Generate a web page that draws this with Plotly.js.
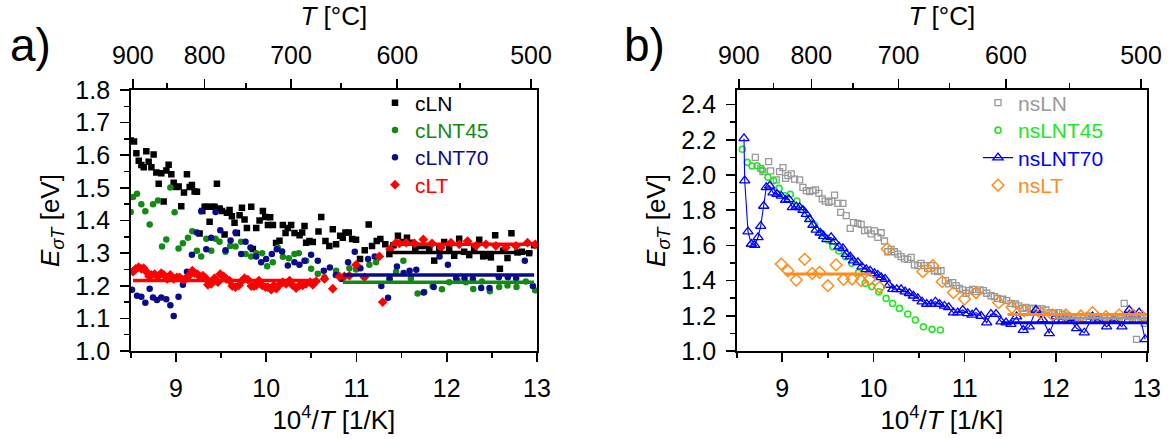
<!DOCTYPE html>
<html>
<head>
<meta charset="utf-8">
<script src="https://cdn.plot.ly/plotly-3.0.1.min.js"></script>
<style>html,body{margin:0;padding:0;background:#fff}#chart{width:1174px;height:441px}</style>
</head>
<body>
<div id="chart"></div>
<script>
// ---------- Panel a data ----------
const cLN_x = [8.50,8.537,8.563,8.589,8.618,8.644,8.673,8.699,8.729,8.754,8.784,8.81,8.839,8.865,8.895,8.92,8.95,8.976,9.005,9.031,9.06,9.09,9.123,9.153,9.178,9.208,9.234,9.263,9.293,9.319,9.344,9.374,9.40,9.429,9.455,9.485,9.51,9.54,9.566,9.595,9.621,9.65,9.676,9.706,9.732,9.761,9.787,9.835,9.853,9.89,9.927,9.964,9.99,10.02,10.045,10.075,10.11,10.148,10.185,10.215,10.24,10.277,10.314,10.37,
  10.399,10.425,10.443,10.48,10.517,10.58,10.61,10.657,10.70,10.738,10.775,10.82,10.849,10.878,10.915,10.952,10.996,11.04,11.092,11.136,11.173,11.225,11.265,11.32,11.365,11.41,11.46,11.52,11.56,11.615,11.652,11.704,11.77,11.807,11.862,11.917,11.972,12.027,12.083,12.138,12.193,12.249,12.304,12.36,12.404,12.452,12.489,12.537,12.589,12.625,12.673,12.717,12.784,12.832,12.913,12.968];
const cLN_y = [1.645,1.642,1.606,1.583,1.570,1.563,1.612,1.580,1.563,1.602,1.547,1.513,1.545,1.458,1.553,1.571,1.542,1.516,1.503,1.504,1.444,1.486,1.542,1.503,1.509,1.489,1.488,1.36,1.429,1.442,1.442,1.396,1.442,1.442,1.513,1.437,1.429,1.357,1.424,1.432,1.413,1.393,1.362,1.416,1.439,1.403,1.377,1.442,1.313,1.377,1.40,1.429,1.411,1.386,1.41,1.386,1.331,1.338,1.386,1.362,1.377,1.386,1.362,1.355,
  1.363,1.383,1.332,1.337,1.334,1.366,1.411,1.337,1.322,1.373,1.327,1.353,1.347,1.363,1.363,1.343,1.341,1.282,1.309,1.388,1.322,1.337,1.343,1.327,1.297,1.324,1.353,1.334,1.347,1.332,1.312,1.322,1.322,1.312,1.277,1.312,1.334,1.312,1.292,1.344,1.304,1.294,1.312,1.341,1.29,1.292,1.287,1.355,1.252,1.307,1.285,1.361,1.302,1.304,1.300,1.324];

const cLNT45_x = [8.5,8.526,8.57,8.618,8.662,8.71,8.747,8.802,8.847,8.894,8.939,8.986,9.03,9.078,9.134,9.182,9.233,9.281,9.337,9.392,9.44,9.484,9.55,9.602,9.661,9.724,9.772,9.834,9.89,9.956,10.011,10.074,10.129,10.185,10.251,10.314,10.362,10.443,10.498,10.572,
  10.646,10.775,10.922,10.996,11.143,11.217,11.365,11.439,11.52,11.604,11.678,11.752,11.844,11.947,12.028,12.12,12.213,12.294,12.39,12.478,12.581,12.673,12.773,12.876,12.979];
const cLNT45_y = [1.426,1.472,1.482,1.45,1.428,1.388,1.45,1.461,1.32,1.342,1.501,1.425,1.314,1.33,1.347,1.367,1.307,1.29,1.344,1.307,1.344,1.335,1.304,1.322,1.32,1.335,1.297,1.29,1.3,1.3,1.26,1.272,1.317,1.289,1.284,1.297,1.3,1.277,1.252,1.237,
  1.226,1.246,1.254,1.25,1.264,1.272,1.222,1.243,1.277,1.222,1.176,1.181,1.199,1.189,1.211,1.216,1.211,1.19,1.213,1.183,1.196,1.201,1.196,1.213,1.186];

const cLNT70_x = [8.515,8.57,8.618,8.662,8.71,8.747,8.791,8.839,8.894,8.939,8.976,9.03,9.078,9.123,9.178,9.233,9.281,9.337,9.392,9.44,9.492,9.55,9.606,9.661,9.724,9.772,9.827,9.89,9.945,10.0,10.063,10.118,10.177,10.24,10.314,10.369,10.425,10.498,10.572,
  10.639,10.706,10.772,10.834,10.908,10.982,11.044,11.129,11.203,11.276,11.35,11.368,11.449,11.523,11.589,11.663,11.744,11.855,11.921,12.013,12.105,12.197,12.289,12.382,12.474,12.577,12.677,12.769,12.865,12.954];
const cLNT70_y = [1.188,1.169,1.166,1.148,1.191,1.164,1.156,1.164,1.159,1.14,1.107,1.166,1.203,1.243,1.295,1.363,1.428,1.312,1.347,1.426,1.37,1.309,1.339,1.363,1.297,1.335,1.317,1.29,1.272,1.282,1.297,1.312,1.305,1.262,1.272,1.264,1.277,1.295,1.277,
  1.246,1.256,1.233,1.221,1.272,1.304,1.254,1.282,1.29,1.199,1.163,1.221,1.259,1.239,1.246,1.249,1.179,1.196,1.29,1.264,1.223,1.223,1.221,1.193,1.193,1.226,1.226,1.223,1.277,1.199];

const cLT_x = [8.526,8.555,8.588,8.618,8.644,8.673,8.703,8.729,8.765,8.802,8.839,8.868,8.905,8.939,8.976,9.012,9.042,9.078,9.115,9.145,9.182,9.208,9.237,9.263,9.3,9.33,9.355,9.392,9.429,9.466,9.492,9.529,9.558,9.595,9.625,9.661,9.698,9.735,9.761,9.798,9.835,9.865,9.89,9.92,9.956,9.993,10.019,10.056,10.085,10.111,10.148,10.185,10.222,10.259,10.296,10.332,10.369,10.406,10.443,10.487,10.517,10.554,
  10.646,10.738,10.812,10.867,10.922,10.996,11.088,11.254,11.291,11.372,11.439,11.476,11.55,11.642,11.741,11.837,11.936,12.047,12.139,12.231,12.324,12.434,12.545,12.655,12.766,12.895,12.98];
const cLT_y = [1.243,1.252,1.257,1.252,1.254,1.243,1.229,1.233,1.236,1.229,1.239,1.233,1.221,1.233,1.221,1.226,1.226,1.219,1.223,1.231,1.246,1.239,1.236,1.229,1.231,1.223,1.203,1.206,1.223,1.211,1.236,1.229,1.221,1.216,1.199,1.196,1.201,1.216,1.223,1.219,1.199,1.199,1.201,1.216,1.201,1.196,1.196,1.188,1.201,1.191,1.203,1.211,1.206,1.216,1.201,1.193,1.201,1.201,1.206,1.211,1.203,1.214,
  1.221,1.191,1.228,1.229,1.231,1.264,1.226,1.29,1.15,1.312,1.332,1.33,1.332,1.33,1.342,1.33,1.317,1.332,1.327,1.337,1.322,1.327,1.322,1.317,1.322,1.332,1.327];

// constant-level fits, panel a
const fitA_series = ['cLT','cLT','cLN','cLNT70','cLNT45'];
const fitA_x0 = [8.526,11.383,11.335,10.85,10.85];
const fitA_x1 = [10.59,12.93,12.95,12.968,12.968];
const fitA_level = [1.216,1.327,1.302,1.233,1.211];

// ---------- Panel b data ----------
const nsLN_x = [8.704,8.763,8.788,8.85,8.872,8.934,8.97,9.007,9.036,9.062,9.098,9.135,9.19,9.226,9.263,9.3,9.336,9.365,9.402,9.438,9.471,9.511,9.544,9.573,9.61,9.64,9.665,9.701,9.745,9.781,9.829,9.865,9.902,9.938,9.975,10.011,10.048,10.084,10.121,10.157,10.194,10.23,10.267,10.303,10.34,10.376,10.413,10.449,10.486,10.522,10.559,10.595,10.632,10.668,10.705,10.741,10.789,10.825,10.869,10.906,10.942,10.979,11.015,11.052,11.088,11.125,11.169,11.205,11.242,11.289,11.326,11.362,
  11.417,11.461,11.508,11.556,11.592,11.636,11.673,11.717,11.753,11.801,11.848,11.892,11.936,11.983,12.031,12.075,12.129,12.184,12.239,12.301,12.359,12.421,12.476,12.531,12.585,12.651,12.695,12.75,12.804,12.841,12.885,12.932,12.969];
const nsLN_y = [2.100,2.038,2.019,2.076,2.023,1.972,2.019,2.042,1.981,1.996,2.006,1.977,1.972,1.93,1.911,1.905,1.911,1.915,1.896,1.864,1.852,1.845,1.852,1.886,1.839,1.788,1.839,1.769,1.697,1.729,1.725,1.72,1.684,1.688,1.665,1.682,1.646,1.672,1.625,1.564,1.578,1.564,1.551,1.536,1.523,1.521,1.532,1.489,1.485,1.498,1.485,1.47,1.485,1.456,1.451,1.456,1.4,1.381,1.388,1.371,1.356,1.347,1.328,1.343,1.35,1.337,1.347,1.343,1.328,1.314,1.309,1.299,
  1.294,1.286,1.271,1.267,1.256,1.243,1.248,1.239,1.243,1.239,1.239,1.233,1.218,1.214,1.218,1.21,1.199,1.195,1.191,1.186,1.199,1.191,1.191,1.191,1.19,1.186,1.186,1.271,1.195,1.186,1.066,1.186,1.157];

const nsLNT45_x = [8.562,8.617,8.668,8.723,8.781,8.843,8.905,8.964,9.026,9.088,9.161,9.226,9.288,9.354,9.427,9.5,9.555,9.621,9.694,9.763,9.836,9.909,9.982,10.059,10.139,10.21,10.285,10.376,10.46,10.548,10.643,10.734];
const nsLNT45_y = [2.146,2.072,2.051,2.053,2.028,1.987,1.968,1.924,1.882,1.89,1.852,1.801,1.754,1.716,1.669,1.631,1.593,1.568,1.536,1.498,1.445,1.385,1.366,1.337,1.299,1.27,1.242,1.21,1.176,1.138,1.123,1.119];

const nsLNT70_x = [8.58,8.588,8.624,8.661,8.697,8.734,8.763,8.796,8.825,8.862,8.898,8.942,8.989,9.036,9.073,9.11,9.153,9.19,9.226,9.263,9.3,9.336,9.372,9.416,9.453,9.489,9.536,9.573,9.621,9.665,9.701,9.745,9.781,9.829,9.873,9.92,9.964,10.011,10.048,10.084,10.128,10.168,10.212,10.256,10.303,10.347,10.394,10.438,10.486,
  10.533,10.584,10.632,10.679,10.723,10.778,10.825,10.877,10.924,10.979,11.034,11.081,11.125,11.18,11.242,11.289,11.344,11.399,11.454,11.508,11.57,11.643,11.709,11.782,11.855,11.928,12.001,12.074,12.147,12.228,12.312,12.403,12.476,12.557,12.641,12.725,12.805,12.86,12.914,12.98];
const nsLNT70_y = [2.208,1.968,1.678,1.608,1.602,1.646,1.71,1.824,1.93,1.938,1.9,1.892,1.881,1.858,1.862,1.816,1.82,1.816,1.801,1.778,1.748,1.716,1.688,1.672,1.653,1.634,1.646,1.621,1.593,1.583,1.551,1.536,1.513,1.504,1.479,1.464,1.455,1.441,1.432,1.418,1.409,1.375,1.352,1.35,1.35,1.337,1.328,1.314,1.299,
  1.28,1.267,1.267,1.28,1.267,1.256,1.248,1.218,1.218,1.233,1.214,1.205,1.218,1.199,1.161,1.21,1.21,1.167,1.161,1.153,1.195,1.119,1.138,1.233,1.18,1.1,1.195,1.176,1.186,1.129,1.104,1.195,1.176,1.138,1.176,1.138,1.233,1.205,1.218,1.066];

const nsLT_x = [8.989,9.062,9.153,9.245,9.329,9.409,9.5,9.591,9.672,9.767,9.865,9.957,10.066,10.15,10.541,10.651,10.753,10.877,10.998,11.125,11.373,11.519,11.654,11.837,11.965,12.111,12.275,12.403,12.549,12.695,12.841,12.951];
const nsLT_y = [1.494,1.456,1.403,1.521,1.441,1.447,1.371,1.489,1.407,1.409,1.4,1.407,1.362,1.58,1.451,1.485,1.394,1.332,1.295,1.331,1.275,1.248,1.229,1.214,1.205,1.205,1.199,1.218,1.195,1.205,1.205,1.195];

// constant-level fits, panel b
const fitB_series = ['nsLN','nsLNT70','nsLT','nsLT'];
const fitB_x0 = [12.0,11.40,9.026,11.47];
const fitB_x1 = [13.0,13.0,9.975,13.0];
const fitB_level = [1.187,1.161,1.4375,1.208];

// ---------- axis tick labels ----------
const bottomTicks = [9,10,11,12,13];
const topTempC = [900,800,700,600,500];
const topMinorTempC = [850,750,650,550];
const yTicksA = [1.0,1.1,1.2,1.3,1.4,1.5,1.6,1.7,1.8];
const yTicksB = [1.0,1.2,1.4,1.6,1.8,2.0,2.2,2.4];

// ---------- styling ----------
const col = {cLN:'#000000', cLNT45:'#138a13', cLNT70:'#0a0a8c', cLT:'#ff0000',
             nsLN:'#999999', nsLNT45:'#22e622', nsLNT70:'#0000ff', nsLT:'#ff8c1a'};
const FONT = 'Liberation Sans, Arial, sans-serif';
const W = 1174, H = 441;
const toInvT = c => 1e4 / (c + 273.15);

const traces = [];
const legends = {};
let legendCount = 0;
// one legend per series so that each entry's text takes the series colour
function addLegend(name, leftPx, rowCenterPx){
  legendCount++;
  const id = legendCount === 1 ? 'legend' : 'legend' + legendCount;
  legends[id] = {x:leftPx / W, y:1 - rowCenterPx / H, xanchor:'left', yanchor:'middle',
    bgcolor:'rgba(0,0,0,0)', borderwidth:0, itemwidth:30,
    font:{family:FONT, size:21, color:col[name]}};
  return id;
}
function pts(name, x, y, sym, size, lw, xa, ya, legendPos, extra){
  const t = {type:'scatter', mode:'markers', name:name, x:x, y:y, xaxis:xa, yaxis:ya,
    legend:addLegend(name, legendPos[0], legendPos[1]),
    marker:{symbol:sym, size:size, color:col[name], line:{width:lw, color:col[name]}}, hoverinfo:'x+y'};
  Object.assign(t, extra||{});
  traces.push(t);
}
pts('cLN', cLN_x, cLN_y, 'square', 6.5, 0, 'x', 'y', [375, 103]);
pts('cLNT45', cLNT45_x, cLNT45_y, 'circle', 6.5, 0, 'x', 'y', [375, 130.3]);
pts('cLNT70', cLNT70_x, cLNT70_y, 'circle', 6.5, 0, 'x', 'y', [375, 157.6]);
pts('cLT', cLT_x, cLT_y, 'diamond', 7.5, 0, 'x', 'y', [375, 185]);

pts('nsLN', nsLN_x, nsLN_y, 'square-open', 6, 1.3, 'x3', 'y2', [978, 103]);
pts('nsLNT45', nsLNT45_x, nsLNT45_y, 'circle-open', 6, 1.6, 'x3', 'y2', [978, 130.5]);
pts('nsLNT70', nsLNT70_x, nsLNT70_y, 'triangle-up-open', 9, 1.3, 'x3', 'y2', [978, 158],
    {mode:'lines+markers', line:{color:col.nsLNT70, width:1.1}});
pts('nsLT', nsLT_x, nsLT_y, 'diamond-open', 9, 1.5, 'x3', 'y2', [978, 185.5]);

for (let i = 0; i < fitA_series.length; i++) {
  traces.push({type:'scatter', mode:'lines', x:[fitA_x0[i], fitA_x1[i]], y:[fitA_level[i], fitA_level[i]],
    xaxis:'x', yaxis:'y', showlegend:false, line:{color:col[fitA_series[i]], width:3.5}, hoverinfo:'skip'});
}
for (let i = 0; i < fitB_series.length; i++) {
  traces.push({type:'scatter', mode:'lines', x:[fitB_x0[i], fitB_x1[i]], y:[fitB_level[i], fitB_level[i]],
    xaxis:'x3', yaxis:'y2', showlegend:false, line:{color:col[fitB_series[i]], width:3}, hoverinfo:'skip'});
}
// carriers for the top temperature axes
traces.push({type:'scatter', mode:'markers', x:[], y:[], xaxis:'x2', yaxis:'y', showlegend:false, hoverinfo:'skip'});
traces.push({type:'scatter', mode:'markers', x:[], y:[], xaxis:'x4', yaxis:'y2', showlegend:false, hoverinfo:'skip'});

const PA = [130.7/W, 537/W], PB = [736.7/W, 1147/W], PY = [1 - 351/H, 1 - 90/H];

const tickFont = {family:FONT, size:25, color:'#000'};
const titleFont = {family:FONT, size:26, color:'#000'};
const common = {showgrid:false, zeroline:false, showline:true, linecolor:'#000', linewidth:1.6,
  ticks:'outside', ticklen:9, tickwidth:1.6, tickcolor:'#000', tickfont:tickFont, automargin:false};

function bottomAxis(domain, anchor){
  return Object.assign({}, common, {domain:domain, anchor:anchor, range:[8.5,13], tickmode:'array', tickvals:bottomTicks,
    ticktext:bottomTicks.map(String), ticklabelstandoff:5,
    minor:{tickmode:'linear', tick0:8.5, dtick:0.5, ticks:'outside', ticklen:5, tickwidth:1.6, tickcolor:'#000', showgrid:false},
    title:{text:'10<sup>4</sup>/<i>T</i> [1/K]', font:titleFont, standoff:5}});
}
function topAxis(over, anchor){
  return Object.assign({}, common, {overlaying:over, anchor:anchor, side:'top', range:[8.5,13], tickmode:'array',
    tickvals:topTempC.map(toInvT), ticktext:topTempC.map(String), ticklabelstandoff:5,
    minor:{tickmode:'array', tickvals:topMinorTempC.map(toInvT), ticks:'outside', ticklen:5, tickwidth:1.6, tickcolor:'#000', showgrid:false},
    title:{text:'<i>T</i> [°C]', font:titleFont, standoff:8}});
}
function yAxis(anchor, range, ticks, minorDtick){
  return Object.assign({}, common, {domain:PY, anchor:anchor, range:range, tickmode:'array', tickvals:ticks,
    ticktext:ticks.map(v => v.toFixed(1)), mirror:true, ticklabelstandoff:5,
    minor:{tickmode:'linear', tick0:1.0, dtick:minorDtick, ticks:'outside', ticklen:5, tickwidth:1.6, tickcolor:'#000', showgrid:false},
    title:{text:'<i>E</i><sub><i>σT</i></sub> [eV]', font:titleFont, standoff:8}});
}

const layout = Object.assign({
  width:W, height:H, margin:{l:0, r:0, t:0, b:0}, paper_bgcolor:'#fff', plot_bgcolor:'#fff',
  font:{family:FONT, size:21, color:'#000'}, showlegend:true, hovermode:'closest',
  xaxis: bottomAxis(PA, 'y'),
  xaxis2: topAxis('x', 'y'),
  xaxis3: bottomAxis(PB, 'y2'),
  xaxis4: topAxis('x3', 'y2'),
  yaxis: yAxis('x', [1.0, 1.8], yTicksA, 0.05),
  yaxis2: yAxis('x3', [1.0, 2.483], yTicksB, 0.1),
  annotations: [
    {text:'a)', xref:'paper', yref:'paper', x:8/W, y:1 - 45/H, xanchor:'left', yanchor:'middle', showarrow:false,
     font:{family:FONT, size:46, color:'#000'}},
    {text:'b)', xref:'paper', yref:'paper', x:622/W, y:1 - 45/H, xanchor:'left', yanchor:'middle', showarrow:false,
     font:{family:FONT, size:46, color:'#000'}}
  ]
}, legends);

Plotly.newPlot('chart', traces, layout, {staticPlot:true, displayModeBar:false});
</script>
</body>
</html>
